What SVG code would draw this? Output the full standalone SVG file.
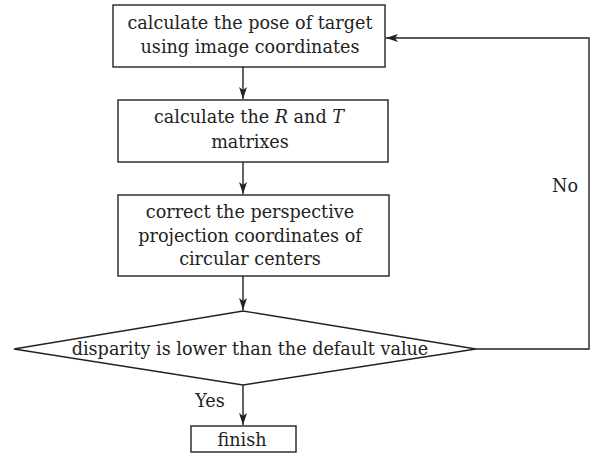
<svg xmlns="http://www.w3.org/2000/svg" width="592" height="456" viewBox="0 0 592 456">
<style>
.n{fill:#fff;stroke:#222;stroke-width:1.4}
.c{fill:none;stroke:#222;stroke-width:1.4}
.t{font-family:'DejaVu Serif','Liberation Serif',serif;font-size:17.6px;fill:#222;text-anchor:middle}
</style>
<defs>
<marker id="ah" viewBox="0 0 12 8" refX="12" refY="4" markerWidth="13" markerHeight="8" markerUnits="userSpaceOnUse" orient="auto">
<path d="M0,0 L12,4 L0,8 L3,4 Z" fill="#222"/>
</marker>
</defs>
<g id="connectors">
<line class="c" x1="243" y1="67" x2="243" y2="99" marker-end="url(#ah)"/>
<line class="c" x1="243" y1="162" x2="243" y2="194" marker-end="url(#ah)"/>
<line class="c" x1="243" y1="276" x2="243" y2="310" marker-end="url(#ah)"/>
<line class="c" x1="243" y1="385" x2="243" y2="425" marker-end="url(#ah)"/>
<polyline class="c" points="476,349 589,349 589,38 386,38" marker-end="url(#ah)"/>
<text class="t" x="210" y="407">Yes</text>
<text class="t" x="565" y="192">No</text>
</g>
<g id="n1">
<rect class="n" x="113" y="5" width="272" height="62"/>
<text class="t" x="250" y="29">calculate the pose of target</text>
<text class="t" x="250" y="53">using image coordinates</text>
</g>
<g id="n2">
<rect class="n" x="118" y="100" width="270" height="62"/>
<text class="t" x="249" y="123">calculate the <tspan font-style="italic">R</tspan> and <tspan font-style="italic">T</tspan></text>
<text class="t" x="250" y="148">matrixes</text>
</g>
<g id="n3">
<rect class="n" x="118" y="195" width="271" height="81"/>
<text class="t" x="250" y="218">correct the perspective</text>
<text class="t" x="250" y="242">projection coordinates of</text>
<text class="t" x="250" y="265">circular centers</text>
</g>
<g id="n4">
<polygon class="n" points="243,311 476,349 243,385 14,349"/>
<text class="t" x="250" y="355">disparity is lower than the default value</text>
</g>
<g id="n5">
<rect class="n" x="191" y="426" width="105" height="26"/>
<text class="t" x="242" y="446">finish</text>
</g>
</svg>
